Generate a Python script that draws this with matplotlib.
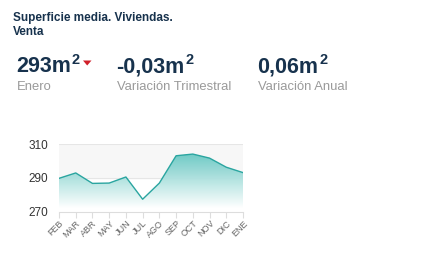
import numpy as np
import matplotlib.pyplot as plt
from matplotlib.patches import Polygon

plt.rcParams['font.family'] = ['Liberation Sans', 'DejaVu Sans']

# Data
months = ['FEB', 'MAR', 'ABR', 'MAY', 'JUN', 'JUL', 'AGO', 'SEP', 'OCT', 'NOV', 'DIC', 'ENE']
superficie = [289.8, 293.0, 286.8, 287.0, 290.6, 277.4, 287.0, 303.2, 304.2, 301.8, 296.4, 293.2]
y_ticks = [270, 290, 310]

headline_values = ['293m', '-0,03m', '0,06m']
headline_labels = ['Enero', 'Variación Trimestral', 'Variación Anual']
headline_x = [16.5, 116.5, 257.5]

navy = '#17324d'
teal_line = '#2aa5a0'

fig = plt.figure(figsize=(4.37, 2.78), dpi=100)
W, H = 437, 278

def px(x, y):
    return x / W, 1 - y / H

fig.text(*px(13, 18), 'Superficie media. Viviendas.', fontsize=8.5, fontweight='bold',
         color=navy, va='center', ha='left')
fig.text(*px(13, 32.5), 'Venta', fontsize=8.5, fontweight='bold', color=navy, va='center', ha='left')

renderer = fig.canvas.get_renderer()
for val, lab, x in zip(headline_values, headline_labels, headline_x):
    t = fig.text(*px(x, 72.5), val, fontsize=15.5, fontweight='bold', color=navy,
                 va='baseline', ha='left')
    bb = t.get_window_extent(renderer)
    fig.text(*px(bb.x1 + 0.5, 64), '2', fontsize=10.5, fontweight='bold', color=navy,
             va='baseline', ha='left')
    fig.text(*px(x + 0.5, 86.5), lab, fontsize=9.4, color='#9a9a9a', va='center', ha='left')

# red down triangle next to the first value
fig.patches.append(Polygon([px(83, 60.5), px(91.5, 60.5), px(87.2, 65.5)], closed=True,
                           transform=fig.transFigure, facecolor='#d0202a', edgecolor='none'))

ax = fig.add_axes([59 / W, 1 - 211.7 / H, (243 - 59) / W, (211.7 - 144.3) / H])
x = np.arange(len(months))
ax.set_xlim(x[0], x[-1])
ax.set_ylim(270, 310)

# grey band between 290 and 310
ax.axhspan(290, 310, color='#f7f7f7', zorder=0)
for yv in [290, 310]:
    ax.axhline(yv, color='#e6e6e6', linewidth=0.8, zorder=1)

# gradient fill under the line
grad = np.linspace(0, 1, 256).reshape(-1, 1)
cmap = plt.matplotlib.colors.LinearSegmentedColormap.from_list('g', ['#ffffff', '#63c6c1'])
img = ax.imshow(grad, cmap=cmap, aspect='auto', origin='lower',
                extent=[x[0], x[-1], 272, 305], zorder=2, alpha=0.95)
clip = Polygon(np.column_stack([np.r_[x, x[-1], x[0]], np.r_[superficie, 270, 270]]),
               closed=True, transform=ax.transData, facecolor='none', edgecolor='none')
ax.add_patch(clip)
img.set_clip_path(clip)
ax.plot(x, superficie, color=teal_line, linewidth=1.0, zorder=3)

ax.set_yticks(y_ticks)
ax.set_xticks(x)
ax.set_xticklabels(months, rotation=45, ha='right', rotation_mode='anchor')
ax.tick_params(axis='y', length=0, labelsize=8.5, labelcolor='#333333', pad=8)
ax.tick_params(axis='x', length=4, color='#dddddd', labelsize=6.5, labelcolor='#666666', pad=1)
for side in ['top', 'right', 'left']:
    ax.spines[side].set_visible(False)
ax.spines['bottom'].set_color('#dddddd')
ax.spines['bottom'].set_linewidth(0.8)

fig.savefig('out.png', dpi=100)
